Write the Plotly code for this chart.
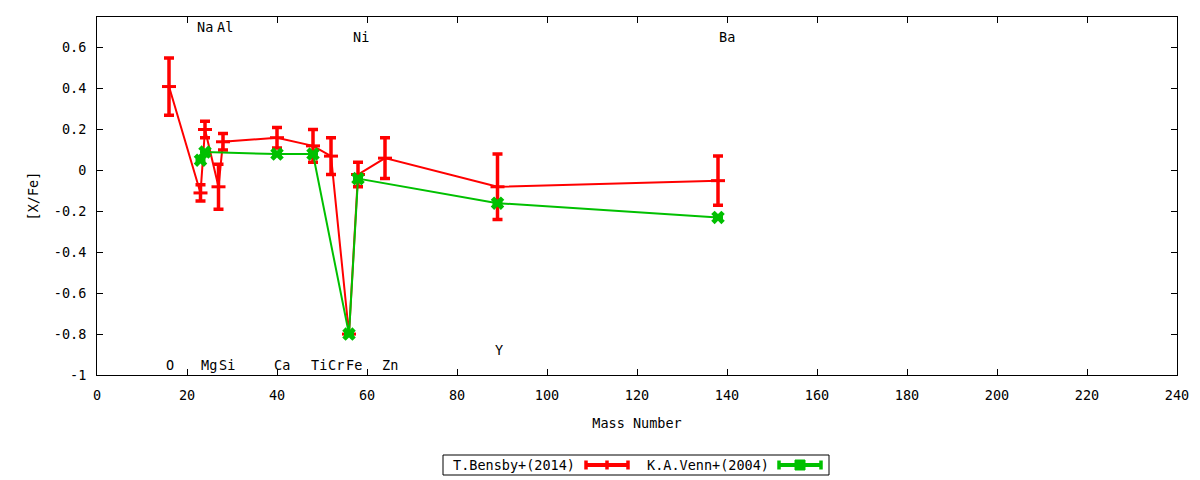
import plotly.graph_objects as go

# T.Bensby+(2014)
bensby_mass = [16, 23, 24, 27, 28, 40, 48, 52, 56, 58, 64, 89, 138]
bensby_xfe = [0.41, -0.11, 0.20, -0.08, 0.14, 0.16, 0.12, 0.07, -0.80, -0.02, 0.06, -0.08, -0.05]
bensby_err = [0.14, 0.04, 0.04, 0.11, 0.04, 0.05, 0.08, 0.09, 0.0, 0.06, 0.10, 0.16, 0.12]

# K.A.Venn+(2004)
venn_mass = [23, 24, 40, 48, 56, 58, 89, 138]
venn_xfe = [0.05, 0.09, 0.08, 0.08, -0.80, -0.04, -0.16, -0.23]
venn_err = [0, 0, 0, 0, 0, 0, 0, 0]

# element labels
elem_names = ["Na", "Al", "Ni", "Ba", "O", "Mg", "Si", "Ca", "Ti", "Cr", "Fe", "Zn", "Y"]
elem_x = [22.3, 26.6, 56.8, 138.2, 15.3, 23.2, 27.0, 39.3, 47.6, 51.4, 55.3, 63.4, 88.4]
elem_y = [0.70, 0.70, 0.65, 0.65, -0.95, -0.95, -0.95, -0.95, -0.95, -0.95, -0.95, -0.95, -0.88]

x_ticks = list(range(0, 241, 20))
y_ticks = [-1, -0.8, -0.6, -0.4, -0.2, 0, 0.2, 0.4, 0.6]
y_ticktext = ["-1", "-0.8", "-0.6", "-0.4", "-0.2", "0", "0.2", "0.4", "0.6"]

FONT = "DejaVu Sans Mono"
FS = 13.5
RED = "#ff0000"
GREEN = "#00c000"

fig = go.Figure()

fig.add_trace(go.Scatter(
    x=bensby_mass, y=bensby_xfe,
    mode="lines+markers",
    name="T.Bensby+(2014)",
    line=dict(color=RED, width=2),
    marker=dict(symbol="line-ew", size=10, color=RED,
                line=dict(width=3, color=RED)),
    error_y=dict(type="data", array=bensby_err, visible=True,
                 color=RED, thickness=3.5, width=5),
))

fig.add_trace(go.Scatter(
    x=venn_mass, y=venn_xfe,
    mode="lines+markers",
    name="K.A.Venn+(2004)",
    line=dict(color=GREEN, width=2),
    marker=dict(symbol="x", size=12, color=GREEN, line=dict(width=0)),
    error_y=dict(type="data", array=venn_err, visible=True,
                 color=GREEN, thickness=3.5, width=5),
))

for name, x, y in zip(elem_names, elem_x, elem_y):
    fig.add_annotation(x=x, y=y, text=name, showarrow=False,
                       xanchor="left", yanchor="middle", xshift=-2,
                       font=dict(family=FONT, size=FS, color="black"))


# gnuplot-style key below the plot (text, then sample), drawn in paper coords
def px(x):
    return (x - 97) / 1080.0


def py(y):
    return (375 - y) / 358.0


key_y = py(465)
fig.add_shape(type="rect", xref="paper", yref="paper",
              x0=px(443), x1=px(829), y0=py(475), y1=py(455),
              line=dict(color="black", width=1), fillcolor="white")

for label, color, tx, sx0, sx1, green in [
    ("T.Bensby+(2014)", RED, 577, 586, 628, False),
    ("K.A.Venn+(2004)", GREEN, 771, 779, 821, True),
]:
    fig.add_annotation(xref="paper", yref="paper", x=px(tx), y=key_y,
                       text=label, showarrow=False, xanchor="right", yanchor="middle",
                       font=dict(family=FONT, size=FS, color="black"))
    fig.add_shape(type="line", xref="paper", yref="paper",
                  x0=px(sx0), x1=px(sx1), y0=key_y, y1=key_y,
                  line=dict(color=color, width=4))
    mid = (sx0 + sx1) / 2.0
    for cx in (sx0, sx1) if green else (sx0, mid, sx1):
        fig.add_shape(type="line", xref="paper", yref="paper",
                      x0=px(cx), x1=px(cx), y0=py(469.5), y1=py(460.5),
                      line=dict(color=color, width=3.5))
    if green:
        fig.add_shape(type="rect", xref="paper", yref="paper",
                      x0=px(mid - 5), x1=px(mid + 5), y0=py(470), y1=py(460),
                      line=dict(color=color, width=1), fillcolor=color)

# page body has an 8px margin, so the figure is sized to fit inside the window
fig.update_layout(
    width=1184, height=472,
    margin=dict(l=89, r=15, t=9, b=105, autoexpand=False),
    paper_bgcolor="white",
    plot_bgcolor="white",
    font=dict(family=FONT, size=FS, color="black"),
    showlegend=False,
    xaxis=dict(
        range=[0, 240],
        tickvals=x_ticks,
        ticks="inside", ticklen=6, tickcolor="black",
        ticklabelstandoff=8,
        showline=True, linecolor="black", linewidth=1, mirror="ticks",
        showgrid=False, zeroline=False, automargin=False,
        title=dict(text="Mass Number", standoff=16, font=dict(family=FONT, size=FS)),
    ),
    yaxis=dict(
        range=[-1, 0.75],
        tickvals=y_ticks, ticktext=y_ticktext,
        ticks="inside", ticklen=6, tickcolor="black",
        ticklabelstandoff=7,
        showline=True, linecolor="black", linewidth=1, mirror="ticks",
        showgrid=False, zeroline=False, automargin=False,
        title=dict(text="[X/Fe]", standoff=12, font=dict(family=FONT, size=FS)),
    ),
)

fig.write_html("out.html")
